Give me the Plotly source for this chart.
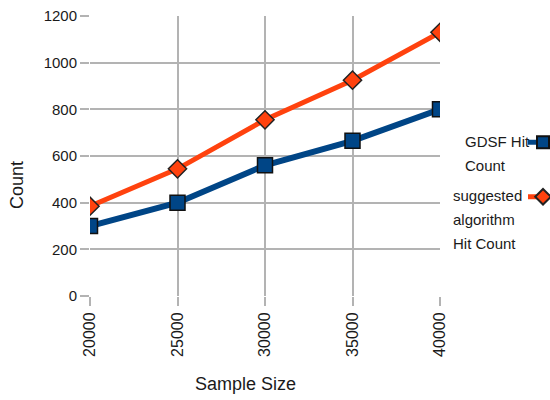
import plotly.graph_objects as go

sample_sizes = [20000, 25000, 30000, 35000, 40000]
gdsf_hits = [300, 400, 560, 665, 800]
suggested_hits = [385, 545, 755, 925, 1130]
tick_vals_y = [0, 200, 400, 600, 800, 1000, 1200]
legend_lines_1 = ["GDSF Hit", "Count"]
legend_lines_2 = ["suggested", "algorithm", "Hit Count"]

FONT = "Liberation Sans, Arial, sans-serif"
BLUE = "#004586"
ORANGE = "#ff420e"
GRID = "#b3b3b3"

W, H = 550, 400
L, R, T, B = 90, 110, 16, 104
PW = W - L - R
PH = H - T - B

def px_x(px):
    return (px - L) / PW

def px_y(py):
    return (H - B - py) / PH

fig = go.Figure()
fig.add_trace(go.Scatter(
    x=sample_sizes, y=gdsf_hits, mode="lines+markers", name=" ", legendgroup="a",
    line=dict(color=BLUE, width=6),
    marker=dict(symbol="square", size=15, color=BLUE, line=dict(color="#111111", width=1.5)),
))
fig.add_trace(go.Scatter(
    x=sample_sizes, y=suggested_hits, mode="lines+markers", name=" ", legendgroup="b",
    line=dict(color=ORANGE, width=5),
    marker=dict(symbol="diamond", size=14, color=ORANGE, line=dict(color="#222222", width=1.5)),
))

annotations = []
for i, t in enumerate(legend_lines_1):
    annotations.append(dict(text=t, x=px_x(463), y=px_y(141 + 24 * i), xref="paper", yref="paper",
                            xanchor="left", yanchor="middle", showarrow=False,
                            font=dict(family=FONT, size=15, color="#1a1a1a")))
for i, t in enumerate(legend_lines_2):
    annotations.append(dict(text=t, x=px_x(451), y=px_y(195 + 24 * i), xref="paper", yref="paper",
                            xanchor="left", yanchor="middle", showarrow=False,
                            font=dict(family=FONT, size=15, color="#1a1a1a")))
annotations.append(dict(text="Count", textangle=-90, x=px_x(17), y=px_y(185), xref="paper", yref="paper",
                        xanchor="center", yanchor="middle", showarrow=False,
                        font=dict(family=FONT, size=18, color="#1a1a1a")))
annotations.append(dict(text="Sample Size", x=px_x(245), y=px_y(384), xref="paper", yref="paper",
                        xanchor="center", yanchor="middle", showarrow=False,
                        font=dict(family=FONT, size=18, color="#1a1a1a")))

fig.update_layout(
    width=W, height=H,
    margin=dict(l=L, r=R, t=T, b=B, autoexpand=False),
    paper_bgcolor="white", plot_bgcolor="white",
    font=dict(family=FONT, color="#1a1a1a"),
    showlegend=True,
    legend=dict(x=px_x(523), y=px_y(126), xanchor="left", yanchor="top",
                bgcolor="rgba(0,0,0,0)", itemwidth=30, tracegroupgap=32,
                itemsizing="constant",
                font=dict(family=FONT, size=15), traceorder="grouped",
                itemclick=False, itemdoubleclick=False),
    annotations=annotations,
)
fig.update_xaxes(
    range=[20000, 40000], tickvals=sample_sizes, ticktext=[str(v) for v in sample_sizes],
    tickangle=-90, showgrid=True, gridcolor=GRID, gridwidth=1.5,
    ticks="outside", ticklen=9, tickcolor=GRID, tickwidth=1.5,
    tickfont=dict(family=FONT, size=16, color="#1a1a1a"),
    zeroline=False, showline=False,
)
fig.update_yaxes(
    range=[0, 1200], tickvals=tick_vals_y, showgrid=True, gridcolor=GRID, gridwidth=1.5,
    ticks="outside", ticklen=9, tickcolor=GRID, tickwidth=1.5,
    tickfont=dict(family=FONT, size=15, color="#1a1a1a"),
    zeroline=False, showline=False,
)

fig.write_html("out.html", config={"displayModeBar": False},
               post_script="document.body.style.margin='0';")
